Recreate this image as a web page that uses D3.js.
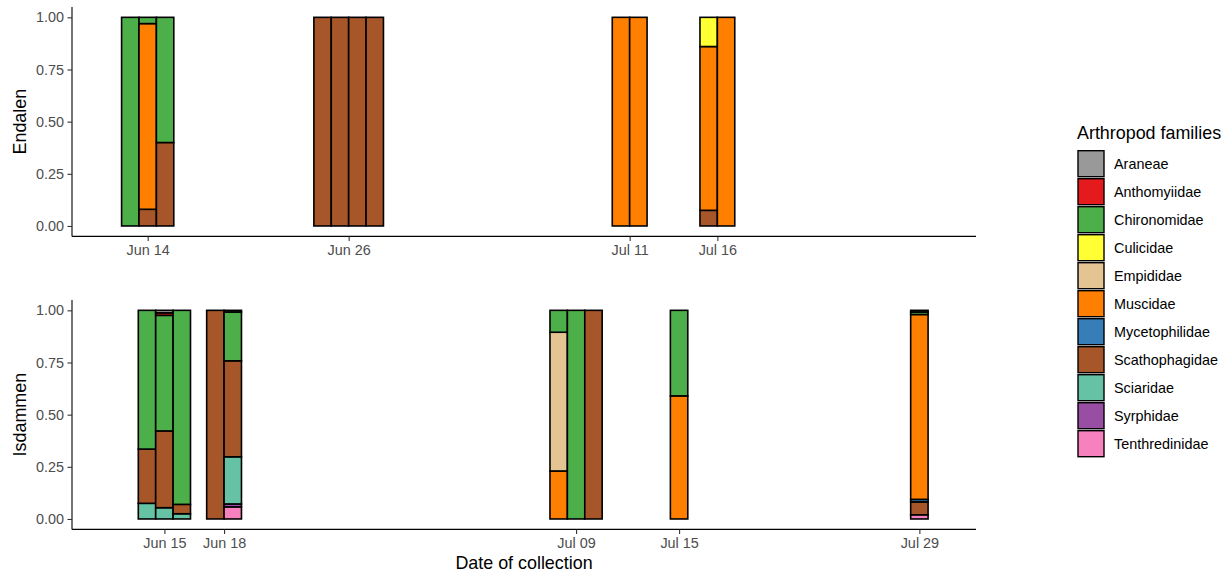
<!DOCTYPE html>
<html>
<head>
<meta charset="utf-8">
<script src="https://cdn.jsdelivr.net/npm/d3@7"></script>
<style>
  html, body { margin: 0; padding: 0; background: #fff; }
  svg { display: block; font-family: "Liberation Sans", Arial, sans-serif; }
</style>
</head>
<body>
<svg id="chart" width="1231" height="577"></svg>
<script>
// ---------- data ----------
const families = ["Araneae","Anthomyiidae","Chironomidae","Culicidae","Empididae","Muscidae",
  "Mycetophilidae","Scathophagidae","Sciaridae","Syrphidae","Tenthredinidae"];
const familyColors = ["#999999","#E41A1C","#4DAF4A","#FFFF33","#E5C494","#FF7F00",
  "#377EB8","#A65628","#66C2A5","#984EA3","#F781BF"];
const yTicks = [0, 0.25, 0.5, 0.75, 1];

// Endalen: collection dates (tick labels) and their estimated position on the day axis
const endalenDates = ["Jun 14", "Jun 26", "Jul 11", "Jul 16"];
const endalenDayPos = [164.85, 176.40, 192.55, 197.59];
// one entry per sample: date label, then proportions in the family order above
const endalenSampleDate = ["Jun 14","Jun 14","Jun 14","Jun 26","Jun 26","Jun 26","Jun 26",
  "Jul 11","Jul 11","Jul 16","Jul 16"];
const endalenProportions = [
  [0,0,1.00,0,0,0,0,0,0,0,0],
  [0,0,0.03,0,0,0.89,0,0.08,0,0,0],
  [0,0,0.60,0,0,0,0,0.40,0,0,0],
  [0,0,0,0,0,0,0,1.00,0,0,0],
  [0,0,0,0,0,0,0,1.00,0,0,0],
  [0,0,0,0,0,0,0,1.00,0,0,0],
  [0,0,0,0,0,0,0,1.00,0,0,0],
  [0,0,0,0,0,1.00,0,0,0,0,0],
  [0,0,0,0,0,1.00,0,0,0,0,0],
  [0,0,0,0.14,0,0.785,0,0.075,0,0,0],
  [0,0,0,0,0,1.00,0,0,0,0,0]
];

// Isdammen
const isdammenDates = ["Jun 15", "Jun 18", "Jul 09", "Jul 15", "Jul 29"];
const isdammenDayPos = [165.81, 169.24, 189.47, 195.39, 209.20];
const isdammenSampleDate = ["Jun 15","Jun 15","Jun 15","Jun 18","Jun 18",
  "Jul 09","Jul 09","Jul 09","Jul 15","Jul 29"];
const isdammenProportions = [
  [0,0,0.665,0,0,0,0,0.26,0.075,0,0],
  [0.012,0.012,0.554,0,0,0,0,0.368,0.054,0,0],
  [0,0,0.93,0,0,0,0,0.045,0.025,0,0],
  [0,0,0,0,0,0,0,1.00,0,0,0],
  [0.008,0,0.234,0,0,0,0,0.46,0.226,0.014,0.058],
  [0,0,0.105,0,0.665,0.23,0,0,0,0,0],
  [0,0,1.00,0,0,0,0,0,0,0,0],
  [0,0,0,0,0,0,0,1.00,0,0,0],
  [0,0,0.41,0,0,0.59,0,0,0,0,0],
  [0.008,0,0.012,0,0,0.886,0.012,0.062,0,0,0.02]
];

// ---------- layout ----------
const svg = d3.select("#chart");
const plotLeft = 72, plotRight = 976;
const dayMin = 160.5, dayMax = 160.5 + 904 / 17.4;
const x = d3.scaleLinear().domain([dayMin, dayMax]).range([plotLeft, plotRight]);
const slot = 1.0; // width of one dodged bar, in days
const color = d3.scaleOrdinal().domain(families).range(familyColors);

const tickColor = "#4D4D4D";
const smallFont = 14.4, titleFont = 17.9;

function drawPanel(name, dates, dayPos, sampleDate, props, top, bottom) {
  const y = d3.scaleLinear().domain([-0.05, 1.05]).range([bottom, top]);
  const g = svg.append("g");
  const posOf = d3.scaleOrdinal().domain(dates).range(dayPos);

  // bar positions (dodged within each date)
  const counts = d3.rollup(sampleDate, v => v.length, d => d);
  const seen = new Map();
  const bars = [];
  sampleDate.forEach((d, i) => {
    const j = seen.get(d) || 0; seen.set(d, j + 1);
    const n = counts.get(d);
    const center = posOf(d) + (j - (n - 1) / 2) * slot;
    let cum = 0;
    for (let f = families.length - 1; f >= 0; f--) {
      const v = props[i][f];
      if (v > 0) {
        bars.push({ fam: families[f], x0: center - slot / 2, x1: center + slot / 2, y0: cum, y1: cum + v });
        cum += v;
      }
    }
  });

  g.selectAll("rect.bar").data(bars).join("rect")
    .attr("class", "bar")
    .attr("x", d => x(d.x0))
    .attr("width", d => x(d.x1) - x(d.x0))
    .attr("y", d => y(d.y1))
    .attr("height", d => y(d.y0) - y(d.y1))
    .attr("fill", d => color(d.fam))
    .attr("stroke", "#000")
    .attr("stroke-width", 1.6);

  // y axis
  const yAxis = d3.axisLeft(y).tickValues(yTicks).tickFormat(d3.format(".2f")).tickSize(4.5).tickPadding(3.5);
  const ya = g.append("g").attr("transform", `translate(${plotLeft},0)`).call(yAxis);
  ya.select(".domain").attr("d", `M0,${top}V${bottom}`).attr("stroke", "#000").attr("stroke-width", 1.1);
  ya.selectAll(".tick line").attr("stroke", "#333").attr("stroke-width", 1.1);
  ya.selectAll(".tick text").attr("fill", tickColor).style("font-size", smallFont + "px")
    .style("font-family", "'Liberation Sans', Arial, sans-serif");

  // x axis
  const xAxis = d3.axisBottom(x).tickValues(dayPos).tickFormat((d, i) => dates[i]).tickSize(4.5).tickPadding(4);
  const xa = g.append("g").attr("transform", `translate(0,${bottom})`).call(xAxis);
  xa.select(".domain").attr("d", `M${plotLeft},0H${plotRight}`).attr("stroke", "#000").attr("stroke-width", 1.1);
  xa.selectAll(".tick line").attr("stroke", "#333").attr("stroke-width", 1.1);
  xa.selectAll(".tick text").attr("fill", tickColor).style("font-size", smallFont + "px")
    .style("font-family", "'Liberation Sans', Arial, sans-serif");

  // panel title (y axis title)
  g.append("text")
    .attr("transform", `translate(26,${(top + bottom) / 2}) rotate(-90)`)
    .attr("text-anchor", "middle")
    .style("font-size", titleFont + "px")
    .text(name);
}

drawPanel("Endalen", endalenDates, endalenDayPos, endalenSampleDate, endalenProportions, 6.9, 236.4);
drawPanel("Isdammen", isdammenDates, isdammenDayPos, isdammenSampleDate, isdammenProportions, 299.9, 529.4);

// x title
svg.append("text")
  .attr("x", (plotLeft + plotRight) / 2).attr("y", 569)
  .attr("text-anchor", "middle")
  .style("font-size", titleFont + "px")
  .text("Date of collection");

// legend
const lg = svg.append("g").attr("transform", "translate(1077,0)");
lg.append("text").attr("x", 0).attr("y", 138.5).style("font-size", titleFont + "px").text("Arthropod families");
const items = lg.selectAll("g.item").data(families).join("g")
  .attr("class", "item")
  .attr("transform", (d, i) => `translate(0,${150.7 + i * 28})`);
items.append("rect")
  .attr("x", 1).attr("y", 0).attr("width", 26).attr("height", 26)
  .attr("fill", d => color(d)).attr("stroke", "#000").attr("stroke-width", 1.4);
items.append("text")
  .attr("x", 37).attr("y", 13).attr("dy", "0.35em")
  .style("font-size", smallFont + "px")
  .text(d => d);
</script>
</body>
</html>
